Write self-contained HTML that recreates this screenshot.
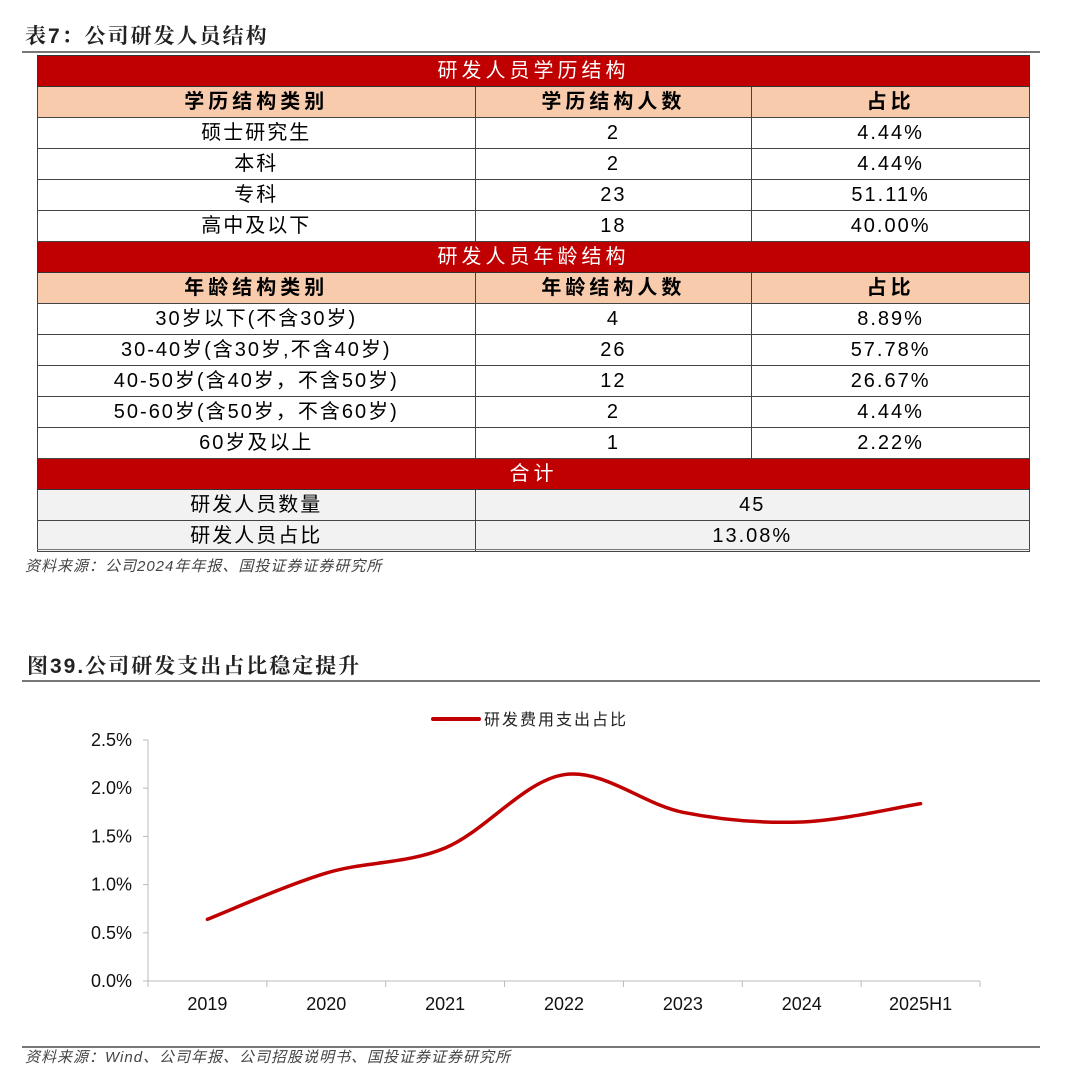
<!DOCTYPE html>
<html><head><meta charset="utf-8">
<style>
body{margin:0;width:1080px;height:1089px;background:#fff;position:relative;overflow:hidden;font-family:"Liberation Sans","Noto Sans CJK SC",sans-serif;color:#000}
.ab{position:absolute}
.title{font-family:"Liberation Sans","Noto Serif CJK SC",serif;font-size:21px;font-weight:bold;color:#222;letter-spacing:2px}
.rule{left:22px;width:1018px;height:0;border-top:2px solid #777}
table{position:absolute;left:37px;top:55px;width:993px;border-collapse:collapse;font-family:"Liberation Sans","Noto Sans CJK SC",sans-serif;font-size:20px}
td{border:1px solid #444;text-align:center;height:30px;padding:0;line-height:28px;letter-spacing:2px}
tr.red td{background:#c00000;color:#fff;border-color:#333;letter-spacing:4px}
tr.hd td{background:#f8cbad;font-weight:bold;letter-spacing:4px}
tr.gr td{background:#f2f2f2}
.src{font-family:"Liberation Sans","Noto Sans CJK SC",sans-serif;font-style:italic;font-size:15px;color:#444;letter-spacing:1px}
</style></head><body>
<div class="ab title" style="left:25px;top:20px">表7：公司研发人员结构</div>
<div class="ab rule" style="top:51px"></div>
<table>
<colgroup><col style="width:438px"><col style="width:277px"><col style="width:278px"></colgroup>
<tr class="red"><td colspan="3">研发人员学历结构</td></tr>
<tr class="hd"><td>学历结构类别</td><td>学历结构人数</td><td>占比</td></tr>
<tr><td>硕士研究生</td><td>2</td><td>4.44%</td></tr>
<tr><td>本科</td><td>2</td><td>4.44%</td></tr>
<tr><td>专科</td><td>23</td><td>51.11%</td></tr>
<tr><td>高中及以下</td><td>18</td><td>40.00%</td></tr>
<tr class="red"><td colspan="3">研发人员年龄结构</td></tr>
<tr class="hd"><td>年龄结构类别</td><td>年龄结构人数</td><td>占比</td></tr>
<tr><td>30岁以下(不含30岁)</td><td>4</td><td>8.89%</td></tr>
<tr><td>30-40岁(含30岁,不含40岁)</td><td>26</td><td>57.78%</td></tr>
<tr><td>40-50岁(含40岁，不含50岁)</td><td>12</td><td>26.67%</td></tr>
<tr><td>50-60岁(含50岁，不含60岁)</td><td>2</td><td>4.44%</td></tr>
<tr><td>60岁及以上</td><td>1</td><td>2.22%</td></tr>
<tr class="red"><td colspan="3">合计</td></tr>
<tr class="gr"><td>研发人员数量</td><td colspan="2">45</td></tr>
<tr class="gr"><td>研发人员占比</td><td colspan="2">13.08%</td></tr>
</table>
<div class="ab rule" style="top:549px;border-top:1px solid #777;left:37px;width:993px"></div>
<div class="ab src" style="left:25px;top:555px">资料来源：公司2024年年报、国投证券证券研究所</div>

<div class="ab title" style="left:27px;top:650px">图39.公司研发支出占比稳定提升</div>
<div class="ab rule" style="top:680px"></div>
<svg class="ab" style="left:0;top:0" width="1080" height="1089">
<g id="g"></g>
</svg>
<div class="ab rule" style="top:1046px"></div>
<div class="ab src" style="left:25px;top:1046px">资料来源：Wind、公司年报、公司招股说明书、国投证券证券研究所</div>
<script>
const categories=["2019","2020","2021","2022","2023","2024","2025H1"];
const values=[0.64,1.12,1.38,2.14,1.75,1.65,1.84];
const yTicks=[0,0.5,1.0,1.5,2.0,2.5];
const yTickLabels=["0.0%","0.5%","1.0%","1.5%","2.0%","2.5%"];
const NS="http://www.w3.org/2000/svg";
const g=document.getElementById('g');
const x0=148,x1=980,yb=981,yt=740,ymax=2.5;
const bw=(x1-x0)/categories.length;
const X=i=>x0+bw*(i+0.5);
const Y=v=>yb-(v/ymax)*(yb-yt);
function mk(t,a){const e=document.createElementNS(NS,t);for(const k in a)e.setAttribute(k,a[k]);g.appendChild(e);return e;}
let ax=mk('line',{x1:x0,y1:yt,x2:x0,y2:yb,stroke:'#bbb','stroke-width':1});


yTicks.forEach((v,i)=>{
  const tk=mk('line',{x1:x0-5,y1:Y(v),x2:x0,y2:Y(v),stroke:'#bbb'});
  
  
  const t=mk('text',{x:x0-16,y:Y(v)+6,'text-anchor':'end','font-size':18,fill:'#111'});
  t.textContent=yTickLabels[i];
  
  
});
let xa=mk('line',{x1:x0,y1:yb,x2:x1,y2:yb,stroke:'#bbb','stroke-width':1});


for(let i=0;i<=categories.length;i++){
  const tk=mk('line',{x1:x0+bw*i,y1:yb,x2:x0+bw*i,y2:yb+6,stroke:'#bbb'});
  
  
}
categories.forEach((c,i)=>{
  const t=mk('text',{x:X(i),y:yb+29,'text-anchor':'middle','font-size':18,fill:'#111'});
  t.textContent=c;
  
  
});
const pts=values.map((v,i)=>[X(i),Y(v)]);
let d='M'+pts[0][0]+','+pts[0][1];
for(let i=0;i<pts.length-1;i++){
  const p0=pts[i-1]||pts[i],p1=pts[i],p2=pts[i+1],p3=pts[i+2]||p2;
  const c1=[p1[0]+(p2[0]-p0[0])/6,p1[1]+(p2[1]-p0[1])/6];
  const c2=[p2[0]-(p3[0]-p1[0])/6,p2[1]-(p3[1]-p1[1])/6];
  d+=' C'+c1+' '+c2+' '+p2;
}
const ln=mk('path',{d:d,fill:'none',stroke:'#c00000','stroke-width':3.5,'stroke-linecap':'round'});


const ll=mk('line',{x1:433,y1:719,x2:479,y2:719,stroke:'#c00000','stroke-width':4,'stroke-linecap':'round'});


const lt=mk('text',{x:484,y:725,'font-size':16,fill:'#222','letter-spacing':2});
lt.textContent='研发费用支出占比';


</script>
</body></html>
